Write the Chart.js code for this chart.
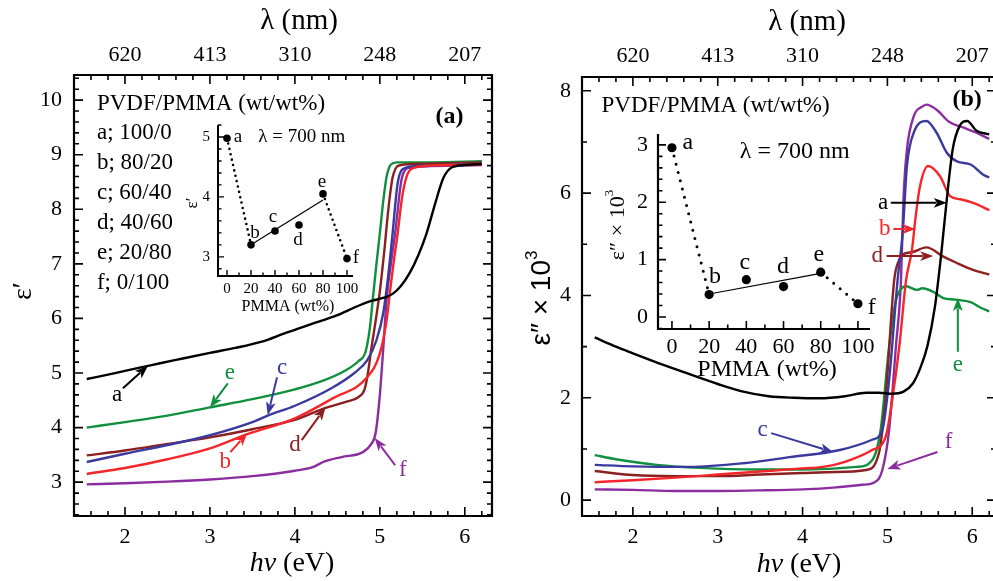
<!DOCTYPE html>
<html>
<head>
<meta charset="utf-8">
<title>PVDF/PMMA optical constants</title>
<script src="https://cdn.jsdelivr.net/npm/chart.js@4.4.0/dist/chart.umd.min.js"></script>
<style>
  body { margin: 0; background: #fff; overflow: hidden; }
  #wrap { position: relative; width: 993px; height: 581px; overflow: hidden; }
  canvas { position: absolute; }
</style>
</head>
<body>
<div id="wrap">
  <canvas id="mainA" width="500" height="581" style="left:0;top:0"></canvas>
  <canvas id="mainB" width="500" height="581" style="left:500px;top:0"></canvas>
  <canvas id="insetA" width="190" height="210" style="left:180px;top:110px"></canvas>
  <canvas id="insetB" width="295" height="265" style="left:590px;top:120px"></canvas>
</div>
<script>
// axis ticks
const evTicks = [2, 3, 4, 5, 6];
const nmLabels = ['620', '413', '310', '248', '207'];
const realTicks = [3, 4, 5, 6, 7, 8, 9, 10];
const lossTicks = [0, 2, 4, 6, 8];
const pmmaTicks = [0, 20, 40, 60, 80, 100];
const insetRealTicks = [3, 4, 5];
const insetLossTicks = [0, 1, 2, 3];

// samples
const samples = ['a', 'b', 'c', 'd', 'e', 'f'];
const ratios = ['100/0', '80/20', '60/40', '40/60', '20/80', '0/100'];
const pmma = [0, 20, 40, 60, 80, 100];

// (a) real part eps' vs photon energy
const realEvA = [1.55, 1.8, 2.0, 2.3, 2.6, 3.0, 3.3, 3.6, 3.9, 4.2, 4.5, 4.7, 4.9, 5.05, 5.15, 5.25, 5.35, 5.45, 5.55, 5.65, 5.75, 5.85, 6.0, 6.2];
const realA = [4.89, 4.97, 5.04, 5.14, 5.24, 5.37, 5.46, 5.57, 5.74, 5.9, 6.06, 6.2, 6.32, 6.38, 6.45, 6.6, 6.83, 7.15, 7.56, 8.1, 8.58, 8.77, 8.81, 8.83];
const realEvB = [1.55, 2.0, 2.5, 3.0, 3.44, 4.0, 4.45, 4.85, 5.0, 5.08, 5.12, 5.16, 5.21, 5.26, 5.32, 5.4, 5.6, 6.2];
const realB = [3.15, 3.26, 3.42, 3.62, 3.88, 4.17, 4.54, 4.92, 5.36, 5.97, 6.5, 7.0, 7.56, 8.2, 8.62, 8.76, 8.8, 8.82];
const realEvC = [1.55, 2.0, 2.5, 3.0, 3.5, 3.68, 4.0, 4.45, 4.7, 4.85, 4.96, 5.04, 5.1, 5.15, 5.21, 5.3, 5.5, 6.2];
const realC = [3.37, 3.52, 3.68, 3.86, 4.1, 4.22, 4.4, 4.74, 5.0, 5.23, 5.6, 6.1, 6.8, 7.56, 8.48, 8.76, 8.8, 8.83];
const realEvD = [1.55, 2.0, 2.5, 3.0, 3.5, 4.0, 4.36, 4.6, 4.75, 4.82, 4.86, 4.9, 4.95, 5.0, 5.05, 5.1, 5.15, 5.22, 5.4, 6.2];
const realD = [3.49, 3.58, 3.7, 3.82, 3.97, 4.14, 4.36, 4.47, 4.56, 4.7, 5.0, 5.45, 5.95, 6.5, 7.2, 8.0, 8.58, 8.8, 8.83, 8.86];
const realEvE = [1.55, 2.0, 2.5, 3.0, 3.5, 4.0, 4.3, 4.6, 4.75, 4.83, 4.88, 4.92, 4.96, 5.0, 5.04, 5.08, 5.13, 5.2, 5.6, 6.2];
const realE = [4.0, 4.1, 4.22, 4.37, 4.52, 4.7, 4.84, 5.05, 5.22, 5.38, 5.8, 6.4, 7.0, 7.56, 8.15, 8.6, 8.82, 8.86, 8.86, 8.88];
const realEvF = [1.55, 2.0, 2.5, 3.0, 3.5, 4.0, 4.2, 4.35, 4.55, 4.8, 4.9, 4.95, 5.0, 5.04, 5.08, 5.13, 5.18, 5.26, 5.35, 5.6, 6.2];
const realF = [2.96, 2.98, 3.01, 3.05, 3.11, 3.21, 3.27, 3.38, 3.46, 3.55, 3.7, 3.9, 4.6, 5.45, 6.35, 7.0, 7.56, 8.58, 8.76, 8.79, 8.81];

// (b) imaginary part eps'' x 10^3 vs photon energy
const lossEvA = [1.55, 1.8, 2.0, 2.3, 2.6, 3.0, 3.3, 3.6, 3.9, 4.2, 4.5, 4.75, 4.9, 5.05, 5.19, 5.3, 5.38, 5.47, 5.56, 5.64, 5.7, 5.77, 5.85, 5.94, 6.05, 6.2];
const lossA = [3.18, 3.0, 2.87, 2.68, 2.5, 2.27, 2.12, 2.03, 2.0, 1.99, 2.03, 2.1, 2.1, 2.08, 2.12, 2.28, 2.55, 3.0, 3.78, 4.9, 5.88, 6.86, 7.31, 7.41, 7.22, 7.15];
const lossEvB = [1.55, 2.0, 2.5, 3.0, 3.5, 4.0, 4.24, 4.5, 4.82, 4.98, 5.06, 5.14, 5.22, 5.29, 5.33, 5.38, 5.48, 5.62, 5.74, 5.86, 6.01, 6.2];
const lossB = [0.35, 0.39, 0.44, 0.5, 0.56, 0.62, 0.65, 0.75, 0.98, 1.24, 2.0, 3.0, 4.3, 4.9, 5.5, 6.1, 6.53, 6.33, 5.94, 5.88, 5.81, 5.67];
const lossEvC = [1.55, 2.0, 2.67, 3.3, 3.85, 4.44, 4.82, 4.94, 5.02, 5.12, 5.18, 5.23, 5.31, 5.46, 5.58, 5.7, 5.82, 5.98, 6.13, 6.2];
const lossC = [0.69, 0.66, 0.65, 0.72, 0.84, 0.98, 1.18, 1.37, 2.35, 4.3, 5.23, 6.53, 7.18, 7.41, 7.18, 6.79, 6.62, 6.56, 6.36, 6.31];
const lossEvD = [1.55, 2.0, 2.5, 3.0, 3.5, 4.0, 4.4, 4.75, 4.9, 4.98, 5.08, 5.14, 5.18, 5.3, 5.46, 5.66, 5.8, 6.01, 6.2];
const lossD = [0.57, 0.49, 0.47, 0.47, 0.5, 0.53, 0.55, 0.59, 0.92, 2.02, 4.3, 4.7, 4.8, 4.85, 4.94, 4.76, 4.65, 4.5, 4.41];
const lossEvE = [1.55, 1.8, 2.28, 2.8, 3.46, 4.0, 4.64, 4.82, 4.92, 5.02, 5.1, 5.18, 5.22, 5.35, 5.41, 5.53, 5.66, 5.8, 5.98, 6.1, 6.2];
const lossE = [0.88, 0.8, 0.69, 0.63, 0.6, 0.6, 0.65, 0.78, 1.37, 3.0, 3.9, 4.16, 4.18, 4.11, 4.14, 4.08, 3.95, 3.92, 3.87, 3.76, 3.69];
const lossEvF = [1.55, 2.0, 2.5, 3.0, 3.5, 4.0, 4.4, 4.7, 4.85, 4.94, 5.02, 5.1, 5.16, 5.19, 5.23, 5.31, 5.42, 5.46, 5.58, 5.73, 5.9, 6.05, 6.2];
const lossF = [0.21, 0.2, 0.18, 0.18, 0.19, 0.21, 0.25, 0.3, 0.35, 0.59, 1.37, 3.0, 4.3, 5.9, 6.85, 7.5, 7.7, 7.73, 7.63, 7.39, 7.28, 7.18, 7.06];

// insets: values at lambda = 700 nm
const real700 = [4.98, 3.2, 3.43, 3.53, 4.05, 2.97];
const loss700 = [2.95, 0.39, 0.65, 0.53, 0.78, 0.23];
const fitPmma = [20, 80];
const realFit = [3.2, 3.95];
const lossFit = [0.4, 0.76];

const SERIF = '"Liberation Serif", "Times New Roman", serif';
const SANS = '"Liberation Sans", Arial, sans-serif';
const colors = ['#000000', '#f5262a', '#3a3a9e', '#8c1f1f', '#10903e', '#8b2d9e'];

function pts(xs, ys) {
  return xs.map((x, i) => ({ x: x, y: ys[i] }));
}

function eachStep(min, max, step, fn) {
  for (let k = Math.ceil(min / step - 1e-9); k * step <= max + 1e-9; k++) fn(+(k * step).toFixed(6));
}

function isMajor(v, major) {
  return Math.abs(v / major - Math.round(v / major)) < 1e-6;
}

function drawArrow(ctx, x1, y1, x2, y2, color, lw, head) {
  const ang = Math.atan2(y2 - y1, x2 - x1);
  const c = Math.cos(ang), s = Math.sin(ang);
  ctx.strokeStyle = color;
  ctx.fillStyle = color;
  ctx.lineWidth = lw;
  ctx.beginPath();
  ctx.moveTo(x1, y1);
  ctx.lineTo(x2 - head * 0.8 * c, y2 - head * 0.8 * s);
  ctx.stroke();
  ctx.beginPath();
  ctx.moveTo(x2, y2);
  ctx.lineTo(x2 - head * c + head * 0.38 * s, y2 - head * s - head * 0.38 * c);
  ctx.lineTo(x2 - head * 0.75 * c, y2 - head * 0.75 * s);
  ctx.lineTo(x2 - head * c - head * 0.38 * s, y2 - head * s + head * 0.38 * c);
  ctx.closePath();
  ctx.fill();
}

// text made of pieces with different fonts (italic, superscript)
function drawRich(ctx, segs, cx, cy, rot) {
  ctx.save();
  ctx.translate(cx, cy);
  ctx.rotate(rot || 0);
  ctx.textBaseline = 'middle';
  ctx.textAlign = 'left';
  let total = 0;
  segs.forEach(s => { ctx.font = s.font; s.w = ctx.measureText(s.t).width; total += s.w; });
  let x = -total / 2;
  segs.forEach(s => {
    ctx.font = s.font;
    ctx.fillStyle = '#000';
    ctx.fillText(s.t, x, s.dy || 0);
    x += s.w;
  });
  ctx.restore();
}

// frame, inward ticks, titles, labels and arrows
const decor = {
  id: 'decor',
  afterDraw(chart, args, o) {
    const ctx = chart.ctx, a = chart.chartArea;
    const xs = chart.scales.x, ys = chart.scales.y;
    ctx.save();
    ctx.strokeStyle = '#000';
    ctx.lineWidth = o.frame;
    ctx.beginPath();
    if (o.box) {
      ctx.rect(a.left, a.top, a.right - a.left, a.bottom - a.top);
    } else {
      ctx.moveTo(a.left, a.top);
      ctx.lineTo(a.left, a.bottom);
      ctx.lineTo(a.right, a.bottom);
    }
    ctx.stroke();

    ctx.lineWidth = o.tickWidth;
    ctx.beginPath();
    eachStep(xs.min, xs.max, o.xMinor, v => {
      const len = isMajor(v, o.xMajor) ? o.majorLen : o.minorLen;
      const px = xs.getPixelForValue(v);
      ctx.moveTo(px, a.bottom); ctx.lineTo(px, a.bottom - len);
      if (o.box) { ctx.moveTo(px, a.top); ctx.lineTo(px, a.top + len); }
    });
    eachStep(ys.min, ys.max, o.yMinor, v => {
      const len = isMajor(v, o.yMajor) ? o.majorLen : o.minorLen;
      const py = ys.getPixelForValue(v);
      ctx.moveTo(a.left, py); ctx.lineTo(a.left + len, py);
      if (o.box) { ctx.moveTo(a.right, py); ctx.lineTo(a.right - len, py); }
    });
    ctx.stroke();

    (o.arrows || []).forEach(r => {
      drawArrow(ctx, xs.getPixelForValue(r.from[0]), ys.getPixelForValue(r.from[1]),
        xs.getPixelForValue(r.to[0]), ys.getPixelForValue(r.to[1]), r.color, o.arrowWidth, o.arrowHead);
    });

    ctx.textBaseline = 'middle';
    (o.labels || []).forEach(l => {
      ctx.font = l.font;
      ctx.fillStyle = l.color || '#000';
      ctx.textAlign = l.align || 'center';
      ctx.fillText(l.t, xs.getPixelForValue(l.x), ys.getPixelForValue(l.y));
    });

    (o.titles || []).forEach(t => drawRich(ctx, t.segs, t.x, t.y, t.rot));
    ctx.restore();
  }
};

function axisX(position, min, max, tickVals, labels, height, pad, size) {
  return {
    type: 'linear', position: position, min: min, max: max,
    grid: { display: false, drawTicks: false },
    border: { display: false },
    afterBuildTicks: s => { s.ticks = tickVals.map(v => ({ value: v })); },
    afterFit: s => { s.height = height; s.paddingLeft = 0; s.paddingRight = 0; },
    ticks: {
      padding: pad, maxRotation: 0, autoSkip: false, color: '#000',
      font: { family: SERIF, size: size },
      callback: labels ? (v, i) => labels[i] : v => String(v)
    }
  };
}

function axisY(min, max, tickVals, width, pad, size) {
  return {
    type: 'linear', position: 'left', min: min, max: max,
    grid: { display: false, drawTicks: false },
    border: { display: false },
    afterBuildTicks: s => { s.ticks = tickVals.map(v => ({ value: v })); },
    afterFit: s => { s.width = width; s.paddingTop = 0; s.paddingBottom = 0; },
    ticks: {
      padding: pad, autoSkip: false, color: '#000',
      font: { family: SERIF, size: size },
      callback: v => String(v)
    }
  };
}

function curveSets(evs, vals) {
  return evs.map((ev, i) => ({
    data: pts(ev, vals[i]),
    borderColor: colors[i],
    borderWidth: 2.4,
    pointRadius: 0,
    fill: false,
    cubicInterpolationMode: 'monotone'
  }));
}

function insetSets(vals, fitVals, dotW, dotGap, radius) {
  const dotted = {
    borderColor: '#000', borderWidth: dotW, borderDash: [0, dotGap],
    borderCapStyle: 'round', pointRadius: 0, fill: false
  };
  return [
    Object.assign({ data: pts(pmma.slice(0, 2), vals.slice(0, 2)) }, dotted),
    Object.assign({ data: pts(pmma.slice(4), vals.slice(4)) }, dotted),
    { data: pts(fitPmma, fitVals), borderColor: '#000', borderWidth: 1.2, pointRadius: 0, fill: false },
    { data: pts(pmma, vals), showLine: false, pointRadius: radius, pointBackgroundColor: '#000', pointBorderWidth: 0 }
  ];
}

function baseOptions(padding, scales, decorOpts) {
  return {
    responsive: false,
    animation: false,
    events: [],
    layout: { padding: padding },
    plugins: { legend: { display: false }, tooltip: { enabled: false }, decor: decorOpts },
    scales: scales
  };
}

const bigFont = '23px ' + SERIF;
const evTitle = [{ t: 'hν', font: 'italic 28px ' + SERIF }, { t: ' (eV)', font: '28px ' + SERIF }];
const nmTitle = [{ t: 'λ (nm)', font: '29px ' + SERIF }];

// ---------- panel (a) ----------
const legendA = [{ t: 'PVDF/PMMA (wt/wt%)', x: 1.67, y: 9.93, align: 'left', font: bigFont }]
  .concat(samples.map((s, i) => ({ t: s + '; ' + ratios[i], x: 1.67, y: 9.40 - i * 0.55, align: 'left', font: bigFont })));

new Chart(document.getElementById('mainA'), {
  type: 'line',
  data: { datasets: curveSets([realEvA, realEvB, realEvC, realEvD, realEvE, realEvF], [realA, realB, realC, realD, realE, realF]) },
  options: baseOptions({ left: 0, right: 8, top: 0, bottom: 0 }, {
    x: axisX('bottom', 1.4, 6.32, evTicks, null, 65, 8, 22),
    x2: axisX('top', 1.4, 6.32, evTicks, nmLabels, 75, 7, 22),
    y: axisY(2.38, 10.46, realTicks, 74, 12, 22)
  }, {
    box: true, frame: 2.2, tickWidth: 1.6, majorLen: 9, minorLen: 5,
    xMinor: 0.2, xMajor: 1, yMinor: 0.2, yMajor: 1,
    arrowWidth: 2, arrowHead: 13,
    titles: [
      { segs: evTitle, x: 292, y: 564 },
      { segs: nmTitle, x: 299, y: 21 },
      { segs: [{ t: 'ε′', font: '28px ' + SERIF }], x: 24, y: 291, rot: -Math.PI / 2 }
    ],
    labels: legendA.concat([
      { t: '(a)', x: 5.82, y: 9.69, font: 'bold 24px ' + SERIF },
      { t: 'a', x: 1.906, y: 4.594, color: colors[0], font: bigFont },
      { t: 'e', x: 3.235, y: 5.0, color: colors[4], font: bigFont },
      { t: 'c', x: 3.85, y: 5.09, color: colors[2], font: bigFont },
      { t: 'b', x: 3.18, y: 3.37, color: colors[1], font: bigFont },
      { t: 'd', x: 4.0, y: 3.68, color: colors[3], font: bigFont },
      { t: 'f', x: 5.27, y: 3.22, color: colors[5], font: bigFont }
    ]),
    arrows: [
      { from: [1.976, 4.72], to: [2.27, 5.13], color: colors[0] },
      { from: [3.21, 4.81], to: [3.0, 4.37], color: colors[4] },
      { from: [3.79, 4.92], to: [3.68, 4.23], color: colors[2] },
      { from: [3.24, 3.55], to: [3.44, 3.9], color: colors[1] },
      { from: [4.08, 3.77], to: [4.36, 4.37], color: colors[3] },
      { from: [5.18, 3.31], to: [4.94, 3.81], color: colors[5] }
    ]
  })
, plugins: [decor] });

// ---------- panel (b) ----------
new Chart(document.getElementById('mainB'), {
  type: 'line',
  data: { datasets: curveSets([lossEvA, lossEvB, lossEvC, lossEvD, lossEvE, lossEvF], [lossA, lossB, lossC, lossD, lossE, lossF]) },
  options: baseOptions({ left: 0, right: 4, top: 0, bottom: 0 }, {
    x: axisX('bottom', 1.4, 6.28, evTicks, null, 65, 8, 22),
    x2: axisX('top', 1.4, 6.28, evTicks, nmLabels, 77, 8, 22),
    y: axisY(-0.31, 8.27, lossTicks, 82, 11, 22)
  }, {
    box: true, frame: 2.2, tickWidth: 1.6, majorLen: 9, minorLen: 5,
    xMinor: 0.2, xMajor: 1, yMinor: 1, yMajor: 2,
    arrowWidth: 2, arrowHead: 13,
    titles: [
      { segs: evTitle, x: 299, y: 565 },
      { segs: nmTitle, x: 307, y: 22 },
      { segs: [{ t: 'ε″ × 10', font: '28px ' + SANS }, { t: '3', font: '17px ' + SANS, dy: -10 }], x: 42, y: 298, rot: -Math.PI / 2 }
    ],
    labels: [
      { t: 'PVDF/PMMA (wt/wt%)', x: 1.63, y: 7.71, align: 'left', font: bigFont },
      { t: '(b)', x: 5.94, y: 7.83, font: 'bold 24px ' + SERIF },
      { t: 'a', x: 4.95, y: 5.81, color: colors[0], font: bigFont },
      { t: 'b', x: 4.97, y: 5.30, color: colors[1], font: bigFont },
      { t: 'd', x: 4.88, y: 4.77, color: colors[3], font: bigFont },
      { t: 'e', x: 5.83, y: 2.64, color: colors[4], font: bigFont },
      { t: 'c', x: 3.53, y: 1.37, color: colors[2], font: bigFont },
      { t: 'f', x: 5.72, y: 1.14, color: colors[5], font: bigFont }
    ],
    arrows: [
      { from: [5.04, 5.81], to: [5.7, 5.81], color: colors[0] },
      { from: [5.07, 5.30], to: [5.33, 5.30], color: colors[1] },
      { from: [4.99, 4.77], to: [5.54, 4.77], color: colors[3] },
      { from: [5.83, 2.9], to: [5.83, 3.95], color: colors[4] },
      { from: [3.63, 1.31], to: [4.36, 0.94], color: colors[2] },
      { from: [5.59, 0.94], to: [5.0, 0.61], color: colors[5] }
    ]
  })
, plugins: [decor] });

// ---------- inset of (a) ----------
const smallFont = '19px ' + SERIF;
new Chart(document.getElementById('insetA'), {
  type: 'line',
  data: { datasets: insetSets(real700, realFit, 2.6, 5.5, 3.8) },
  options: baseOptions({ left: 0, right: 17, top: 15, bottom: 0 }, {
    x: axisX('bottom', -7.5, 105, pmmaTicks, null, 44, 4, 15),
    y: axisY(2.68, 5.2, insetRealTicks, 38, 8, 15)
  }, {
    box: false, frame: 2, tickWidth: 1.4, majorLen: 6, minorLen: 3.5,
    xMinor: 10, xMajor: 20, yMinor: 0.2, yMajor: 1,
    titles: [
      { segs: [{ t: 'PMMA (wt%)', font: '16px ' + SERIF }], x: 108, y: 197 },
      { segs: [{ t: 'ε′', font: '17px ' + SERIF }], x: 13, y: 93, rot: -Math.PI / 2 }
    ],
    labels: [
      { t: 'λ = 700 nm', x: 26, y: 5.0, align: 'left', font: smallFont }
    ].concat(samples.map((s, i) => ({
      t: s, font: smallFont,
      x: [9.2, 23.3, 38.3, 59.2, 79.2, 107.5][i], y: [5.0, 3.4, 3.67, 3.28, 4.25, 2.98][i]
    })))
  })
, plugins: [decor] });

// ---------- inset of (b) ----------
const midFont = '24px ' + SERIF;
new Chart(document.getElementById('insetB'), {
  type: 'line',
  data: { datasets: insetSets(loss700, lossFit, 3, 8.5, 4.6) },
  options: baseOptions({ left: 0, right: 15, top: 14, bottom: 0 }, {
    x: axisX('bottom', -7.5, 106.5, pmmaTicks, null, 56, 5, 22),
    y: axisY(-0.21, 3.19, insetLossTicks, 68, 10, 22)
  }, {
    box: false, frame: 2.2, tickWidth: 1.6, majorLen: 8, minorLen: 4.5,
    xMinor: 10, xMajor: 20, yMinor: 0.2, yMajor: 1,
    titles: [
      { segs: [{ t: 'PMMA (wt%)', font: '24px ' + SERIF }], x: 177, y: 250 },
      { segs: [{ t: 'ε″ × 10', font: '22px ' + SERIF }, { t: '3', font: '13px ' + SERIF, dy: -8 }], x: 28, y: 105, rot: -Math.PI / 2 }
    ],
    labels: [
      { t: 'λ = 700 nm', x: 36.5, y: 2.88, align: 'left', font: midFont }
    ].concat(samples.map((s, i) => ({
      t: s, font: midFont,
      x: [8.6, 23.1, 39.2, 59.7, 79.0, 107.5][i], y: [3.03, 0.70, 0.94, 0.87, 1.08, 0.17][i]
    })))
  })
, plugins: [decor] });
</script>
</body>
</html>
